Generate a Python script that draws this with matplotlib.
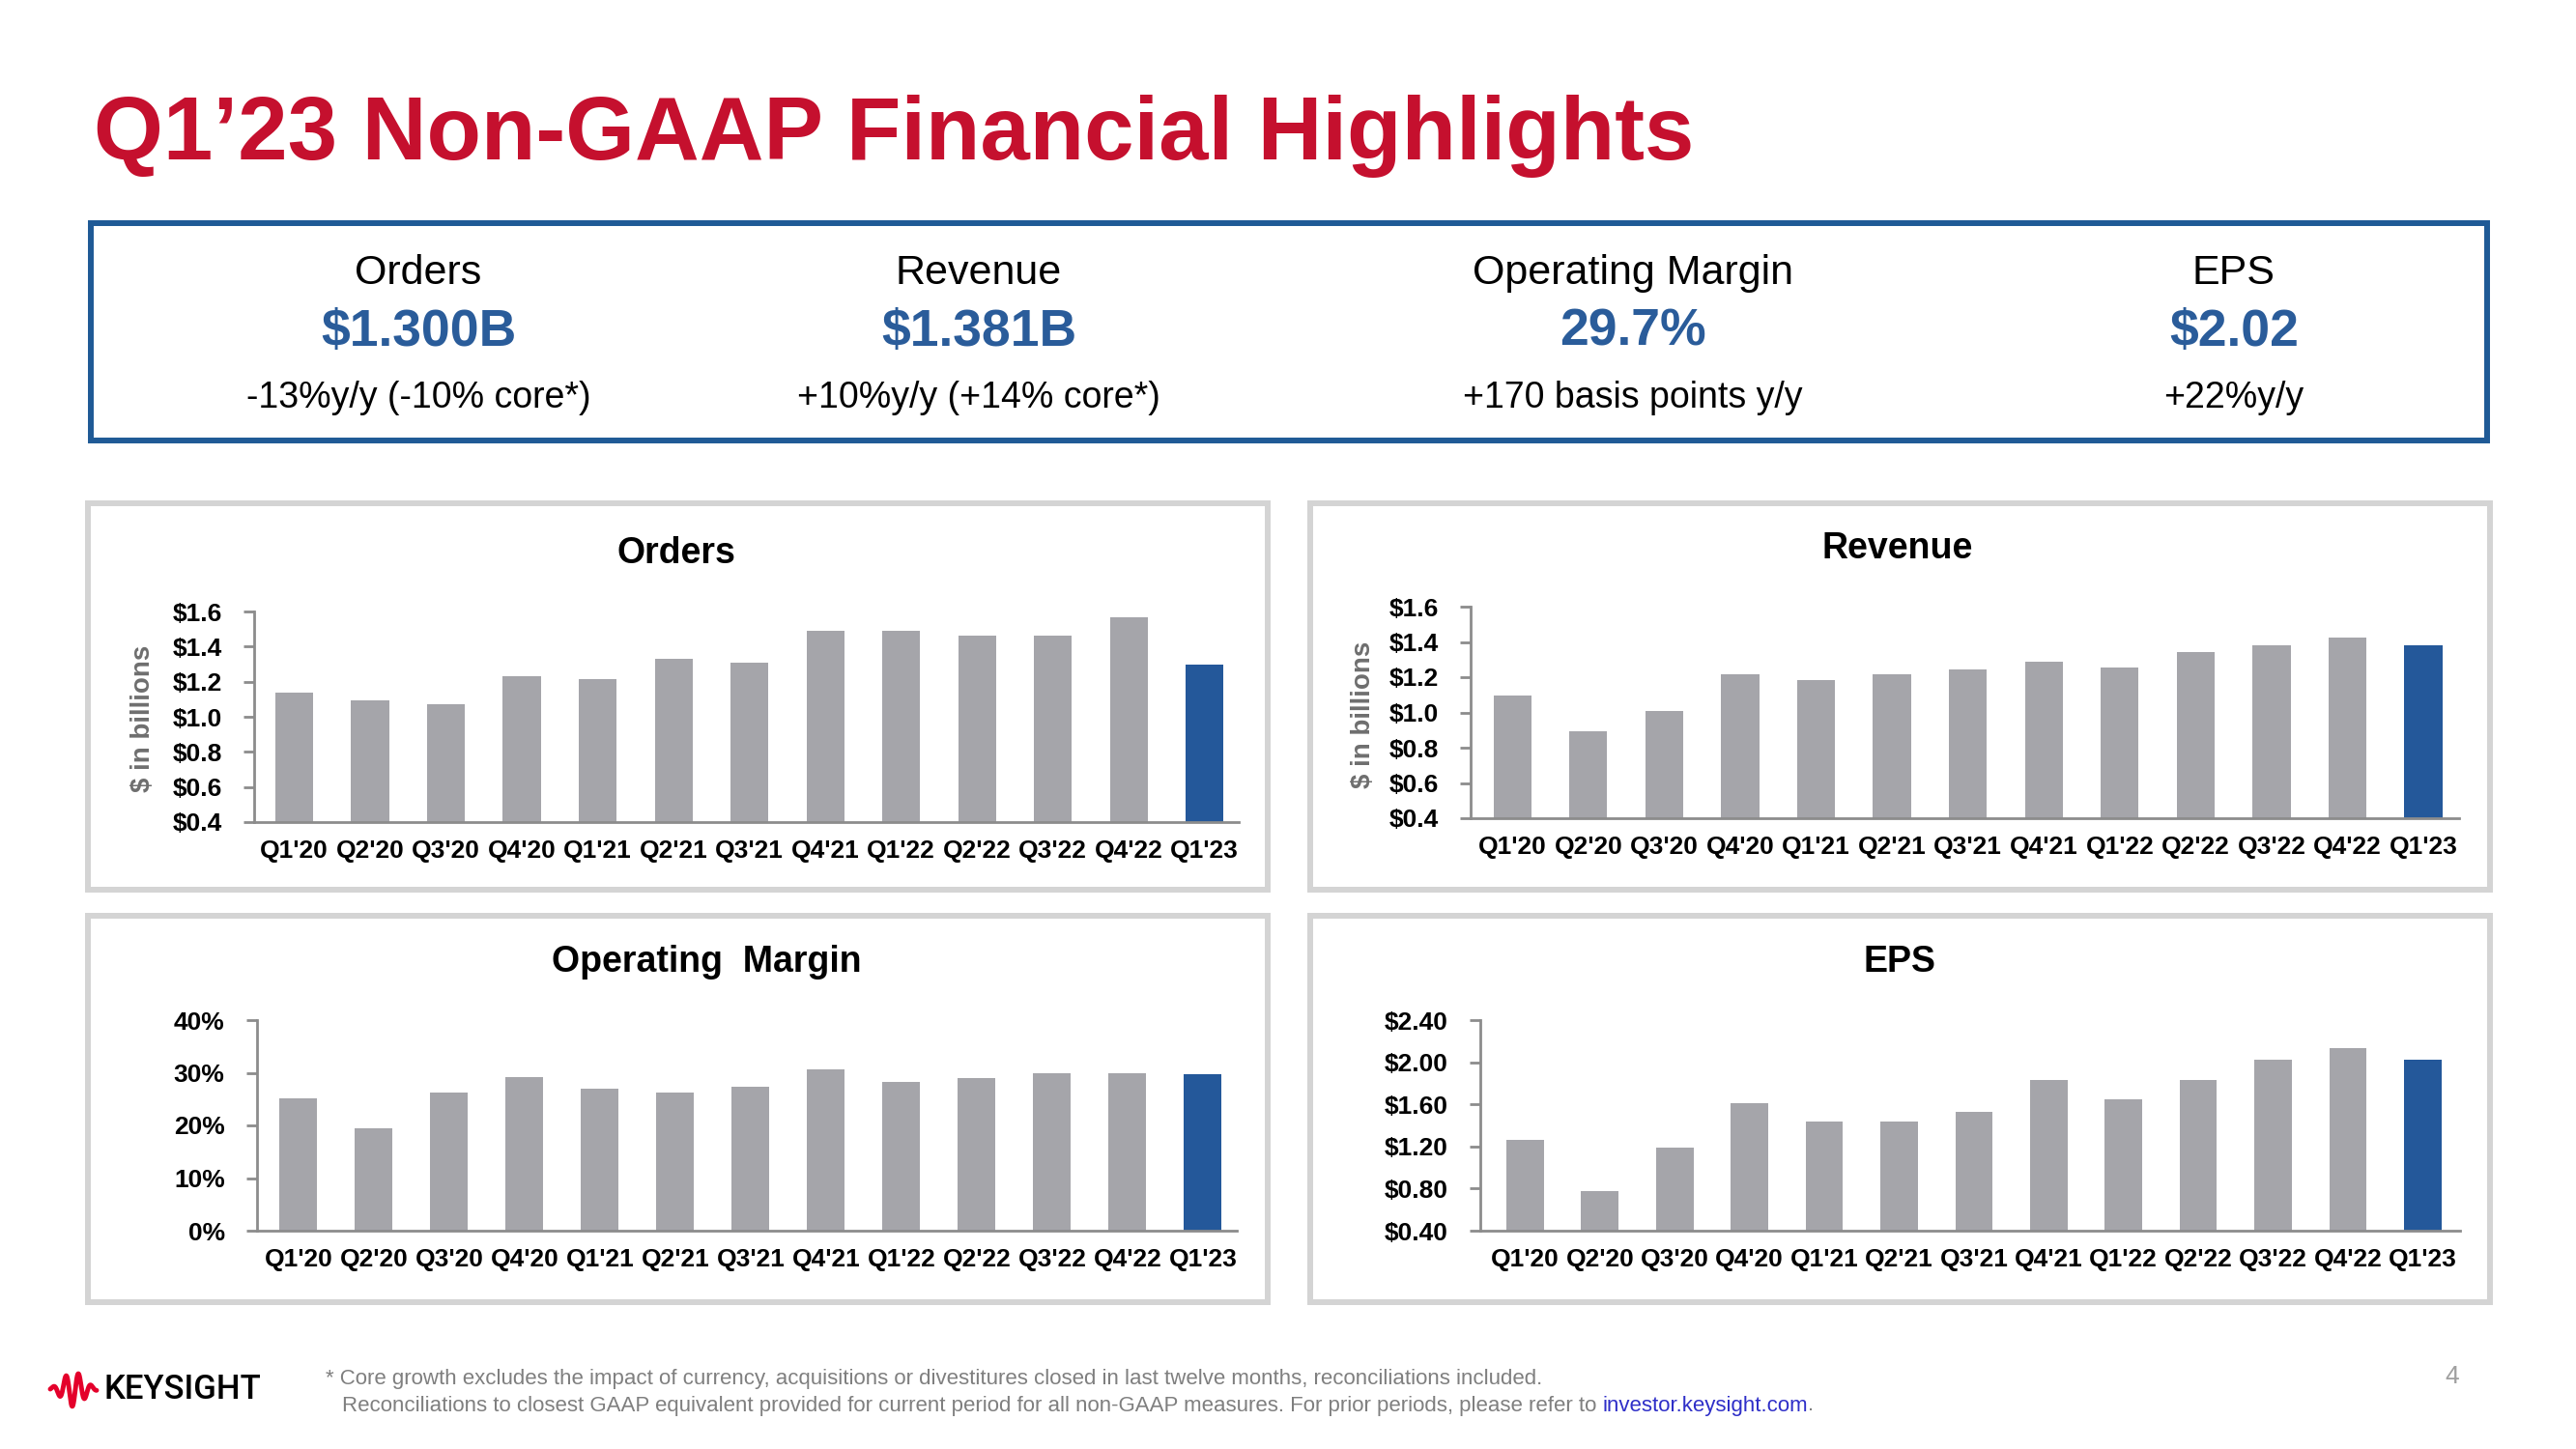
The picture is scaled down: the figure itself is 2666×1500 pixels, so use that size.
import numpy as np
import matplotlib
matplotlib.use("Agg")
import matplotlib.pyplot as plt
from matplotlib.patches import Rectangle

# ---- data ----
quarters = ["Q1'20", "Q2'20", "Q3'20", "Q4'20", "Q1'21", "Q2'21", "Q3'21",
            "Q4'21", "Q1'22", "Q2'22", "Q3'22", "Q4'22", "Q1'23"]
orders = [1.14, 1.095, 1.07, 1.23, 1.215, 1.33, 1.31, 1.49, 1.49, 1.46, 1.46, 1.565, 1.30]
revenue = [1.095, 0.895, 1.01, 1.215, 1.185, 1.215, 1.245, 1.29, 1.255, 1.34, 1.38, 1.425, 1.381]
op_margin = [25.1, 19.4, 26.2, 29.1, 26.9, 26.2, 27.3, 30.6, 28.2, 29.0, 30.0, 30.0, 29.7]
eps = [1.26, 0.78, 1.19, 1.61, 1.44, 1.44, 1.53, 1.83, 1.65, 1.83, 2.02, 2.13, 2.02]

kpi_labels = ["Orders", "Revenue", "Operating Margin", "EPS"]
kpi_values = ["$1.300B", "$1.381B", "29.7%", "$2.02"]
kpi_changes = ["-13%y/y (-10% core*)", "+10%y/y (+14% core*)",
               "+170 basis points y/y", "+22%y/y"]

GREY = "#A5A5AA"
BLUE = "#24589A"
AXIS = "#8C8C8C"
FONT = ["Liberation Sans", "DejaVu Sans"]

plt.rcParams["font.family"] = FONT

W, H = 2666, 1500
fig = plt.figure(figsize=(W / 100, H / 100), dpi=100)
fig.patch.set_facecolor("white")

# background axes in pixel coordinates for the slide furniture
bg = fig.add_axes([0, 0, 1, 1])
bg.set_xlim(0, W)
bg.set_ylim(H, 0)
bg.axis("off")

# title
bg.text(97, 165, "Q1\u201923 Non-GAAP Financial Highlights", fontsize=66.5,
        fontweight="bold", color="#C5102E", ha="left", va="baseline")

# KPI box
bg.add_patch(Rectangle((94, 231), 2574 - 94, 456 - 231, fill=False,
                       edgecolor="#1F5A96", lw=4.3))
kpi_x = [433, 1013, 1690, 2312]
for x, lab, val, chg in zip(kpi_x, kpi_labels, kpi_values, kpi_changes):
    bg.text(x, 283, lab, fontsize=31, ha="center", va="center", color="black")
    bg.text(x, 344, val, fontsize=38.5, fontweight="bold", ha="center",
            va="center", color="#2A5C9A")
    bg.text(x, 412, chg, fontsize=27, ha="center", va="center", color="black")

# panel frames
for (x0, y0) in [(91, 521), (1356, 521), (91, 948), (1356, 948)]:
    bg.add_patch(Rectangle((x0, y0), 1221, 400, fill=False,
                           edgecolor="#D4D4D4", lw=4.3))


def bar_panel(vals, title, title_xy, box, xlim, ylim, yticks, fmt, ylabel_xy=None):
    left, right, top, bottom = box
    ax = fig.add_axes([left / W, 1 - bottom / H, (right - left) / W, (bottom - top) / H])
    colors = [GREY] * (len(vals) - 1) + [BLUE]
    ax.bar(np.arange(len(vals)), vals, width=0.5, color=colors, zorder=2)
    ax.set_xlim(*xlim)
    ax.set_ylim(*ylim)
    ax.set_yticks(yticks)
    ax.set_yticklabels([fmt(v) for v in yticks])
    ax.set_xticks(np.arange(len(vals)))
    ax.set_xticklabels(quarters)
    ax.patch.set_alpha(0)
    for s in ["top", "right"]:
        ax.spines[s].set_visible(False)
    for s in ["left", "bottom"]:
        ax.spines[s].set_color(AXIS)
        ax.spines[s].set_linewidth(2.0)
    ax.tick_params(axis="y", length=8, width=2, color=AXIS, pad=16,
                   labelsize=19)
    ax.tick_params(axis="x", length=0, pad=13, labelsize=19)
    for lbl in ax.get_xticklabels() + ax.get_yticklabels():
        lbl.set_fontweight("bold")
    bg.text(title_xy[0], title_xy[1], title, fontsize=27, fontweight="bold",
            ha="center", va="center")
    if ylabel_xy is not None:
        bg.text(ylabel_xy[0], ylabel_xy[1], "$ in billions", rotation=90,
                fontsize=20, fontweight="bold", color="#6E6E6E",
                ha="center", va="center")
    return ax


bar_panel(orders, "Orders", (700, 573), (263, 1282, 633, 851), (-0.53, 12.45),
          (0.4, 1.6), [0.4, 0.6, 0.8, 1.0, 1.2, 1.4, 1.6],
          lambda v: f"${v:.1f}", ylabel_xy=(148, 744))
bar_panel(revenue, "Revenue", (1964, 568), (1522, 2545, 628, 847), (-0.55, 12.47),
          (0.4, 1.6), [0.4, 0.6, 0.8, 1.0, 1.2, 1.4, 1.6],
          lambda v: f"${v:.1f}", ylabel_xy=(1411, 740))
bar_panel(op_margin, "Operating  Margin", (731, 996), (266, 1280, 1056, 1274),
          (-0.55, 12.45), (0, 40), [0, 10, 20, 30, 40],
          lambda v: f"{v:.0f}%")
bar_panel(eps, "EPS", (1966, 996), (1532, 2546, 1056, 1274), (-0.6, 12.5),
          (0.4, 2.4), [0.4, 0.8, 1.2, 1.6, 2.0, 2.4],
          lambda v: f"${v:.2f}")

# footer: logo
xs = np.linspace(52, 100, 300)
env = np.exp(-((xs - 76) / 15) ** 2)
bg.plot(xs, 1438 - 18 * env * np.sin(2 * np.pi * (xs - 52) / 13), color="#E4002B",
        lw=3.5, solid_capstyle="round")
bg.text(107, 1439, "KEYSIGHT", fontsize=25, family=["Roboto", "DejaVu Sans"],
        fontweight="medium", ha="left", va="center", color="black")

# footnotes
bg.text(337, 1428, "* Core growth excludes the impact of currency, acquisitions or "
        "divestitures closed in last twelve months, reconciliations included.",
        fontsize=16, color="#7F7F7F", ha="left", va="center")
t2 = bg.text(354, 1455, "Reconciliations to closest GAAP equivalent provided for "
             "current period for all non-GAAP measures. For prior periods, please refer to ",
             fontsize=16, color="#7F7F7F", ha="left", va="center")
t3 = bg.annotate("investor.keysight.com", xy=(1, 0), xycoords=t2, fontsize=16,
                 color="#2F2FC8", ha="left", va="bottom")
bg.annotate(".", xy=(1, 0), xycoords=t3, fontsize=16, color="#7F7F7F",
            ha="left", va="bottom")
bg.text(2538, 1425, "4", fontsize=19, color="#A0A0A0", ha="center", va="center")

fig.savefig("out.png", dpi=100, facecolor="white")
